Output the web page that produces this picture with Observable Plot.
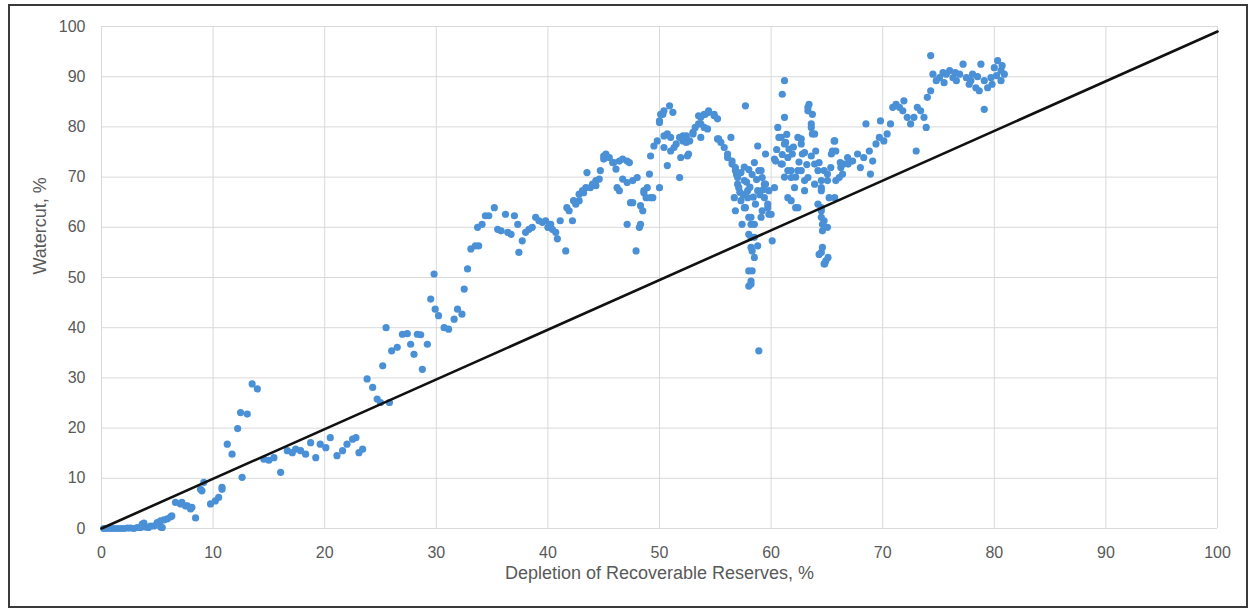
<!DOCTYPE html>
<html>
<head>
<meta charset="utf-8">
<script src="https://cdn.jsdelivr.net/npm/d3@7"></script>
<script src="https://cdn.jsdelivr.net/npm/@observablehq/plot@0.6"></script>
<style>
  html, body { margin: 0; padding: 0; background: #ffffff; }
  #wrap { position: relative; width: 1248px; height: 608px; overflow: hidden; }
  #border { position: absolute; left: 8px; top: 4px; width: 1236px; height: 600px; border: 2px solid #3a3a3a; pointer-events: none; }
</style>
</head>
<body>
<div id="wrap"><div id="chart"></div><div id="border"></div></div>
<script>
// Depletion of recoverable reserves, % (x) and watercut, % (y)
const depletion = [
0.2,0.5,0.8,1.1,1.4,1.7,2.0,2.3,2.6,2.9,3.2,3.5,3.65,3.8,3.94,4.2,4.39,4.7,4.99,5.0,5.29,5.3,5.44,5.6,5.89,6.19,6.3,6.63,7.08,7.2,7.53,7.7,7.98,8.1,8.43,8.87,9.0,9.17,9.77,10.2,10.5,10.8,10.8,
11.27,11.7,12.2,12.46,13.06,12.6,13.5,13.96,14.55,15.0,15.45,16.05,16.65,17.1,17.4,17.84,18.29,18.74,19.2,19.6,20.1,20.5,21.1,21.6,22.0,22.5,22.8,23.07,23.4,23.8,24.3,24.7,25.0,25.2,25.5,25.8,
26.0,26.5,26.96,27.4,27.7,28.0,28.3,28.6,28.75,29.2,29.5,29.8,29.9,30.2,30.7,31.1,31.6,31.9,32.3,32.5,32.8,33.1,33.5,33.8,33.7,34.1,34.4,34.7,35.2,35.5,35.8,36.2,36.4,36.7,37.0,37.3,37.4,37.7,38.0,38.3,38.6,38.9,39.2,39.5,39.8,40.0,40.25,40.4,40.7,40.85,41.1,41.6,41.7,41.9,42.2,42.3,42.5,42.8,42.8,43.1,43.2,43.4,43.5,43.8,44.0,44.3,44.3,44.6,44.7,45.0,45.0,45.2,45.5,45.8,45.9,46.1,46.2,46.4,46.4,46.7,46.7,47.1,47.1,47.1,47.3,47.4,47.6,47.6,47.9,48.0,48.2,48.3,48.3,48.5,48.6,48.6,48.8,48.9,49.1,49.2,49.2,49.4,49.5,49.8,50.0,50.0,50.0,50.1,50.3,50.4,50.4,50.4,50.7,50.7,50.9,51.0,51.0,51.2,51.3,51.5,51.8,51.8,51.9,52.1,52.1,52.4,52.4,52.5,52.6,52.7,53.0,53.0,53.2,53.5,53.5,53.7,53.7,53.7,54.0,54.0,54.1,54.3,54.4,54.4,54.9,54.9,55.2,55.2,55.3,55.5,55.8,56.1,56.1,56.4,56.5,56.5,56.7,56.8,56.8,56.8,57.0,57.0,57.1,57.3,57.3,57.4,57.6,57.6,57.7,57.7,57.9,57.9,58.0,58.0,58.0,58.0,58.2,58.2,58.2,58.2,58.2,58.2,58.3,58.3,58.5,58.5,58.5,58.5,58.6,58.8,58.8,58.8,58.9,58.9,59.1,59.1,59.2,59.2,59.4,59.4,59.5,59.5,59.7,59.7,59.8,59.8,60.0,60.1,60.3,60.3,60.4,60.6,60.7,60.9,60.9,61.0,61.0,61.2,61.2,61.2,61.3,61.5,61.5,61.5,61.6,61.8,61.8,61.8,61.9,62.1,62.2,62.4,62.4,62.4,62.7,62.7,62.7,62.8,63.0,63.0,63.0,63.3,63.3,63.3,63.4,63.6,63.6,63.6,63.7,63.7,63.9,63.9,63.9,64.0,64.2,64.2,64.3,64.3,64.5,64.5,64.5,64.5,64.5,64.5,64.5,64.6,64.6,64.6,64.75,64.75,64.75,64.8,64.9,65.05,65.05,65.05,65.1,65.2,65.35,65.4,65.5,65.65,65.7,65.7,65.8,65.8,66.1,66.2,66.25,66.4,66.5,66.85,66.9,67.3,67.75,68.0,68.3,68.5,68.8,68.9,69.1,69.4,69.7,69.8,70.1,70.4,70.7,70.9,71.2,71.5,71.8,71.9,72.2,72.5,72.8,73.0,73.1,73.4,73.7,73.9,74.0,74.3,74.5,74.3,74.8,75.1,75.4,75.7,76.0,76.3,76.6,76.9,77.2,77.5,77.75,78.05,78.35,78.65,78.8,79.1,79.1,79.4,79.7,80.0,80.3,80.6,80.7,80.9,80.6,
56.9,57.2,57.5,57.8,58.1,58.4,58.7,59.0,59.3,58.3,57.6,58.0,60.5,61.0,61.4,62.0,62.5,63.2,62.2,61.2,75.5,76.5,77.9,78.5,79.8,80.2
];
const watercut = [
0,0,0,0,0,0,0,0.1,0.1,0,0.2,0.2,0.9,1.1,0.3,0.2,0.5,0.5,1.2,1.0,1.5,0.3,0.2,1.7,1.9,2.3,2.5,5.2,4.9,5.2,4.5,4.5,3.9,4.2,2.1,7.8,7.5,9.2,4.9,5.5,6.2,7.8,8.2,
16.8,14.8,19.9,23.1,22.8,10.2,28.8,27.8,13.8,13.6,14.1,11.2,15.5,15.1,15.8,15.5,14.8,17.1,14.1,16.8,16.1,18.1,14.5,15.5,16.8,17.8,18.1,15.1,15.8,29.8,28.1,25.8,25.1,32.4,40.0,25.1,
35.4,36.1,38.7,38.8,36.7,34.7,38.7,38.6,31.7,36.7,45.7,50.7,43.7,42.4,40.0,39.7,41.7,43.7,42.7,47.7,51.7,55.7,56.3,56.3,60.0,60.6,62.3,62.3,63.9,59.6,59.3,62.6,59.0,58.6,62.3,60.6,55.0,57.3,59.0,59.6,60.0,62.0,61.3,61.0,61.3,60.0,60.6,59.6,59.0,57.7,61.3,55.3,63.9,63.3,61.3,65.3,64.6,65.3,66.6,67.3,66.9,67.9,70.9,67.9,68.6,69.3,68.3,69.6,71.3,73.6,74.2,74.6,73.9,72.9,72.9,71.6,67.9,73.2,67.3,73.6,69.6,73.2,68.9,60.6,72.9,64.9,69.3,64.9,55.3,69.9,60.0,60.6,64.3,63.3,67.3,66.9,65.9,67.9,70.6,74.2,65.9,65.9,76.2,77.2,67.9,81.2,80.9,82.5,82.5,83.2,78.2,75.9,78.6,72.3,84.2,77.9,75.2,82.9,75.9,76.6,69.9,77.9,73.9,78.2,77.2,76.9,78.2,74.2,74.6,77.2,78.6,78.9,79.9,82.2,80.6,80.6,77.9,81.9,82.5,79.9,82.5,79.6,82.9,83.2,82.5,82.2,81.6,77.6,77.6,76.9,75.9,74.6,73.9,77.9,72.6,73.2,65.9,71.3,71.9,63.3,69.9,68.6,67.9,65.3,70.9,60.6,63.9,69.3,84.2,63.9,67.3,65.9,62.0,58.6,51.3,48.3,58.0,48.7,62.0,60.6,56.0,49.3,55.3,51.3,60.6,58.0,54.0,72.9,64.6,67.3,76.2,56.3,35.4,71.3,71.3,62.0,63.3,69.9,68.6,65.9,74.6,68.6,64.6,63.9,62.6,67.3,62.6,57.3,67.9,73.6,73.2,79.9,77.9,77.9,72.6,72.6,86.5,89.2,81.9,76.6,76.9,65.9,71.3,73.9,75.6,71.3,69.9,65.3,74.6,67.9,63.9,71.3,77.9,63.9,77.6,76.6,71.3,74.6,69.3,74.9,67.3,83.2,83.9,69.9,84.5,80.6,79.9,74.2,78.6,82.5,72.6,78.6,68.6,75.2,71.3,64.6,72.9,54.6,67.9,63.3,55.0,63.9,69.3,67.3,62.0,60.6,56.0,59.3,61.3,71.3,52.7,52.7,53.3,60.0,70.6,69.3,54.0,65.9,71.9,74.6,75.2,77.2,77.2,65.9,75.2,69.3,69.9,72.9,71.9,70.6,72.6,73.9,72.6,73.2,74.6,71.9,73.9,80.6,75.2,70.6,73.2,76.6,77.9,81.2,77.2,78.6,80.6,83.9,84.5,83.9,83.2,85.2,81.9,80.6,81.9,75.2,83.9,83.2,81.9,79.9,85.9,87.2,90.5,94.2,89.2,89.8,90.8,90.5,91.2,89.8,89.2,90.5,92.5,89.8,88.5,90.5,87.8,87.2,92.5,89.2,83.5,87.8,89.8,91.8,93.2,91.2,92.2,90.5,89.2,
70.5,67.0,66.5,69.0,68.0,66.0,69.5,66.5,67.5,70.5,72.0,71.5,75.5,74.5,78.5,76.0,73.0,72.5,70.0,70.0,88.8,90.8,89.2,90.0,88.5,90.2
];
// reference line end points
const lineX = [0, 100];
const lineY = [0, 99];
const xTicks = [0, 10, 20, 30, 40, 50, 60, 70, 80, 90, 100];
const yTicks = [0, 10, 20, 30, 40, 50, 60, 70, 80, 90, 100];
const xTitle = "Depletion of Recoverable Reserves, %";
const yTitle = "Watercut, %";

const points = depletion.map((x, i) => ({x, y: watercut[i]}));
const line = lineX.map((x, i) => ({x, y: lineY[i]}));

const chart = Plot.plot({
  width: 1248,
  height: 608,
  marginLeft: 101,
  marginRight: 31,
  marginTop: 26,
  marginBottom: 80,
  x: {domain: [0, 100]},
  y: {domain: [0, 100]},
  style: {fontFamily: "'Liberation Sans', Arial, sans-serif", fontSize: "16px", color: "#595959", background: "transparent"},
  marks: [
    Plot.gridX(xTicks, {stroke: "#d9d9d9", strokeOpacity: 1, strokeWidth: 1}),
    Plot.gridY(yTicks, {stroke: "#d9d9d9", strokeOpacity: 1, strokeWidth: 1}),
    Plot.axisX(xTicks, {tickSize: 0, tickPadding: 18, label: null, fill: "#595959", fontSize: 16}),
    Plot.axisY(yTicks, {tickSize: 0, tickPadding: 16, label: null, fill: "#595959", fontSize: 16}),
    Plot.text([xTitle], {text: d => d, frameAnchor: "bottom", dy: 50, fontSize: 18, fill: "#595959"}),
    Plot.text([yTitle], {text: d => d, frameAnchor: "left", dx: -61, dy: -3, rotate: -90, fontSize: 18, fill: "#595959"}),
    Plot.dot(points, {x: "x", y: "y", r: 3.6, fill: "#4a90d6", stroke: "none"}),
    Plot.line(line, {x: "x", y: "y", stroke: "#111111", strokeWidth: 2.6})
  ]
});
document.getElementById("chart").appendChild(chart);
</script>
</body>
</html>
